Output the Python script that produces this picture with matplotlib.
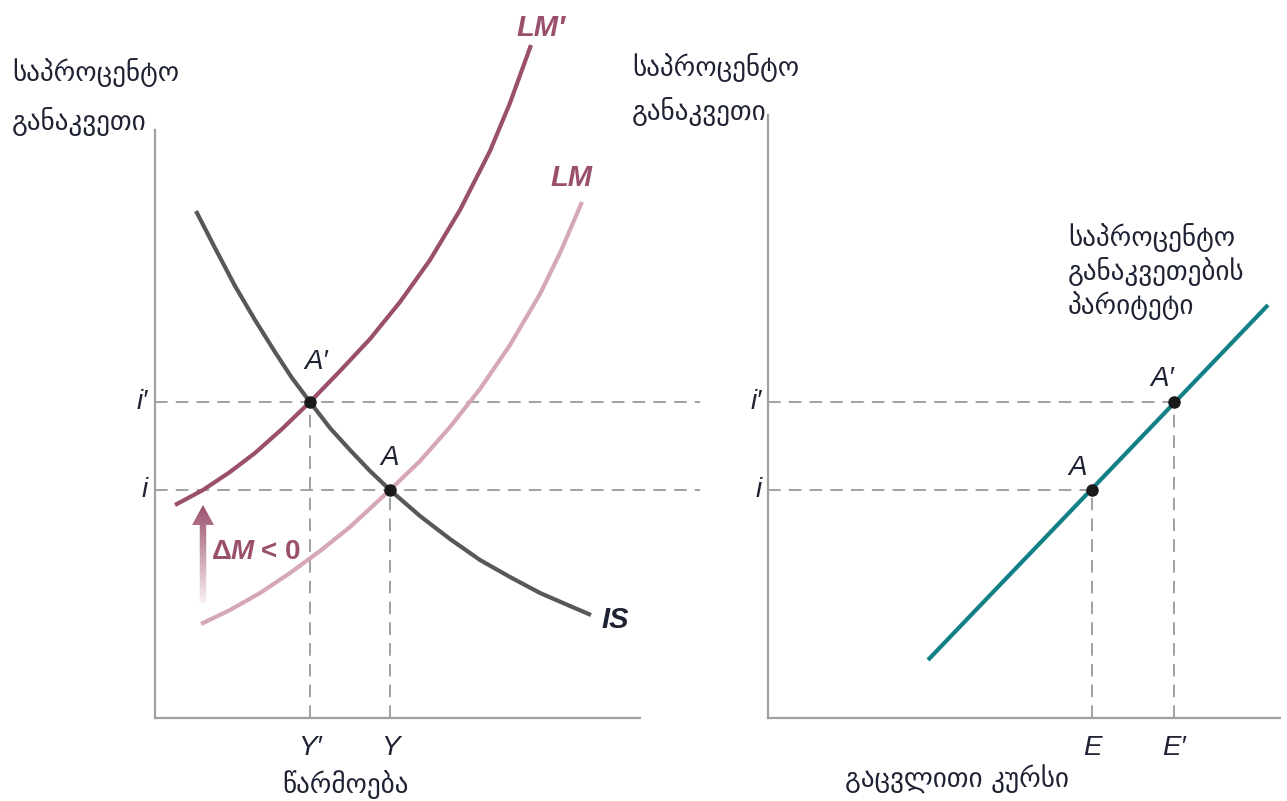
import numpy as np
import matplotlib
matplotlib.use("Agg")
import matplotlib.pyplot as plt
from matplotlib.patches import FancyArrow
from matplotlib.colors import LinearSegmentedColormap

# ---------------- data (diagram units) ----------------
IS_Y = [4.1, 6.0, 8.0, 10.0, 12.0, 13.7, 15.5, 17.5, 19.5, 21.5, 23.5, 26.5, 29.5,
        32.5, 35.5, 38.5, 41.5, 43.6]
IS_I = [50.7, 47.0, 43.2, 39.8, 36.6, 34.0, 31.6, 29.0, 26.8, 24.7, 22.8, 20.2, 17.9,
        15.8, 14.1, 12.5, 11.2, 10.3]

LM2_Y = [2.0, 3.5, 4.8, 7.5, 10.0, 12.7, 15.5, 18.5, 21.5, 24.5, 27.5, 30.5, 33.5, 35.5, 37.6]
LM2_I = [21.3, 22.1, 22.8, 24.6, 26.5, 28.9, 31.6, 34.7, 37.9, 41.6, 45.8, 50.8, 56.7, 61.5, 67.3]

LM1_Y = [4.6, 7.5, 10.5, 13.5, 16.5, 19.5, 23.5, 26.5, 29.5, 32.5, 35.5, 38.5, 40.5, 42.7]
LM1_I = [9.4, 10.8, 12.5, 14.5, 16.7, 19.1, 22.8, 25.7, 29.1, 32.9, 37.3, 42.4, 46.5, 51.6]

PAR_E = [16.0, 50.0]
PAR_I = [5.8, 41.3]

i0, i1 = 22.8, 31.6        # i, i'
Y0, Y1 = 23.5, 15.5        # Y, Y'
E0, E1 = 32.4, 40.6        # E, E'

Y_LABEL = ["საპროცენტო", "განაკვეთი"]
X_LABEL_L = "წარმოება"
X_LABEL_R = "გაცვლითი კურსი"
PAR_LABEL = ["საპროცენტო", "განაკვეთების", "პარიტეტი"]

# ---------------- style ----------------
C_LM2 = "#9a4f6c"
C_LM1 = "#d6a7b7"
C_IS = "#585858"
C_PAR = "#138087"
C_DASH = "#9a9a9a"
C_AX = "#a0a0a0"
C_TXT = "#1e2233"

GEO = ["DejaVu Sans"]
LAB = ["Liberation Sans Narrow", "Liberation Sans", "DejaVu Sans"]
GFS = 19.5

W, H = 1287, 801
fig = plt.figure(figsize=(W / 100, H / 100), dpi=100)
fig.patch.set_facecolor("white")

axL = fig.add_axes([155 / W, 83 / H, 485 / W, 600 / H])
axR = fig.add_axes([768 / W, 83 / H, 512 / W, 600 / H])

for ax, top in ((axL, 58.8), (axR, 60.3)):
    ax.set_facecolor("none")
    for s in ("top", "right"):
        ax.spines[s].set_visible(False)
    for s in ("left", "bottom"):
        ax.spines[s].set_color(C_AX)
        ax.spines[s].set_linewidth(1.6)
    ax.spines["left"].set_bounds(0, top)
    ax.spines["left"].set_clip_on(False)
    ax.set_xticks([]); ax.set_yticks([])

dash_kw = dict(color=C_DASH, lw=1.3, dashes=(7, 4.5), clip_on=False, zorder=1)
curve_kw = dict(lw=3.0, solid_capstyle="butt", solid_joinstyle="round", clip_on=False)

# ---------------- left panel ----------------
axL.plot([0, 54.5], [i1, i1], **dash_kw)
axL.plot([0, 54.5], [i0, i0], **dash_kw)
axL.plot([Y1, Y1], [0, i1], **dash_kw)
axL.plot([Y0, Y0], [0, i0], **dash_kw)

axL.plot(LM1_Y, LM1_I, color=C_LM1, zorder=2, **curve_kw)
axL.plot(LM2_Y, LM2_I, color=C_LM2, zorder=3, **curve_kw)
axL.plot(IS_Y, IS_I, color=C_IS, zorder=3, **curve_kw)
axL.plot([Y1, Y0], [i1, i0], "o", color="#1a1a1a", ms=8, zorder=5, clip_on=False)

# gradient arrow (delta M < 0)
arr = FancyArrow(4.8, 11.5, 0, 7.8, width=0.65, head_width=2.2, head_length=2.0,
                 length_includes_head=False, facecolor="none", edgecolor="none")
axL.add_patch(arr)
cmap = LinearSegmentedColormap.from_list("g", ["#f8f0f3", "#c99dae", C_LM2])
grad = np.linspace(0, 1, 256).reshape(-1, 1)
im = axL.imshow(grad, extent=[3.5, 6.1, 11.5, 21.4], origin="lower", cmap=cmap,
                aspect="auto", zorder=4)
im.set_clip_path(arr)
axL.set_xlim(0, 48.5); axL.set_ylim(0, 60)
axR.set_xlim(0, 51.2); axR.set_ylim(0, 60)

lab_kw = dict(family=LAB, style="italic", fontsize=20, color=C_TXT, clip_on=False)
big_kw = dict(family=LAB, style="italic", fontweight="bold", fontsize=21,
              ha="center", va="center", clip_on=False)
axL.text(38.6, 69.0, "LM′", color=C_LM2, **big_kw)
axL.text(41.6, 54.0, "LM", color=C_LM2, **big_kw)
axL.text(46.0, 9.8, "IS", color=C_TXT, **big_kw)

dm_kw = dict(family=LAB, fontweight="bold", fontsize=20, color=C_LM2,
             ha="left", va="center", clip_on=False)
axL.text(5.7, 16.6, "Δ", **dm_kw)
axL.text(7.6, 16.6, "M", style="italic", **dm_kw)
axL.text(10.6, 16.6, "< 0", **dm_kw)

axL.text(16.1, 35.6, "A′", ha="center", va="center", **lab_kw)
axL.text(23.5, 26.0, "A", ha="center", va="center", **lab_kw)
axL.text(-0.7, i1, "i′", ha="right", va="center", **lab_kw)
axL.text(-0.7, i0, "i", ha="right", va="center", **lab_kw)
axL.text(Y1, -3.0, "Y′", ha="center", va="center", **lab_kw)
axL.text(Y0, -3.0, "Y", ha="center", va="center", **lab_kw)
axL.text(19.0, -6.7, X_LABEL_L, ha="center", va="center", family=GEO, fontsize=GFS,
         color=C_TXT, clip_on=False)

# ---------------- right panel ----------------
axR.plot([0, E1], [i1, i1], **dash_kw)
axR.plot([0, E0], [i0, i0], **dash_kw)
axR.plot([E0, E0], [0, i0], **dash_kw)
axR.plot([E1, E1], [0, i1], **dash_kw)
axR.plot(PAR_E, PAR_I, color=C_PAR, zorder=3, **curve_kw)
axR.plot([E0, E1], [i0, i1], "o", color="#1a1a1a", ms=8, zorder=5, clip_on=False)

axR.text(31.0, 25.0, "A", ha="center", va="center", **lab_kw)
axR.text(39.4, 33.9, "A′", ha="center", va="center", **lab_kw)
axR.text(-0.6, i1, "i′", ha="right", va="center", **lab_kw)
axR.text(-0.6, i0, "i", ha="right", va="center", **lab_kw)
axR.text(E0, -3.0, "E", ha="center", va="center", **lab_kw)
axR.text(E1, -3.0, "E′", ha="center", va="center", **lab_kw)
axR.text(18.9, -6.1, X_LABEL_R, ha="center", va="center", family=GEO, fontsize=GFS,
         color=C_TXT, clip_on=False)
for k, line in enumerate(PAR_LABEL):
    axR.text(30.0, 48.0 - 3.4 * k, line, ha="left", va="center", family=GEO,
             fontsize=GFS, color=C_TXT, clip_on=False)

# ---------------- y-axis titles ----------------
for x0, ys in ((12, (73, 122)), (632, (68, 112))):
    for line, yy in zip(Y_LABEL, ys):
        fig.text(x0 / W, 1 - yy / H, line, ha="left", va="center", family=GEO,
                 fontsize=GFS, color=C_TXT)

fig.savefig("out.png", dpi=100, facecolor="white")
